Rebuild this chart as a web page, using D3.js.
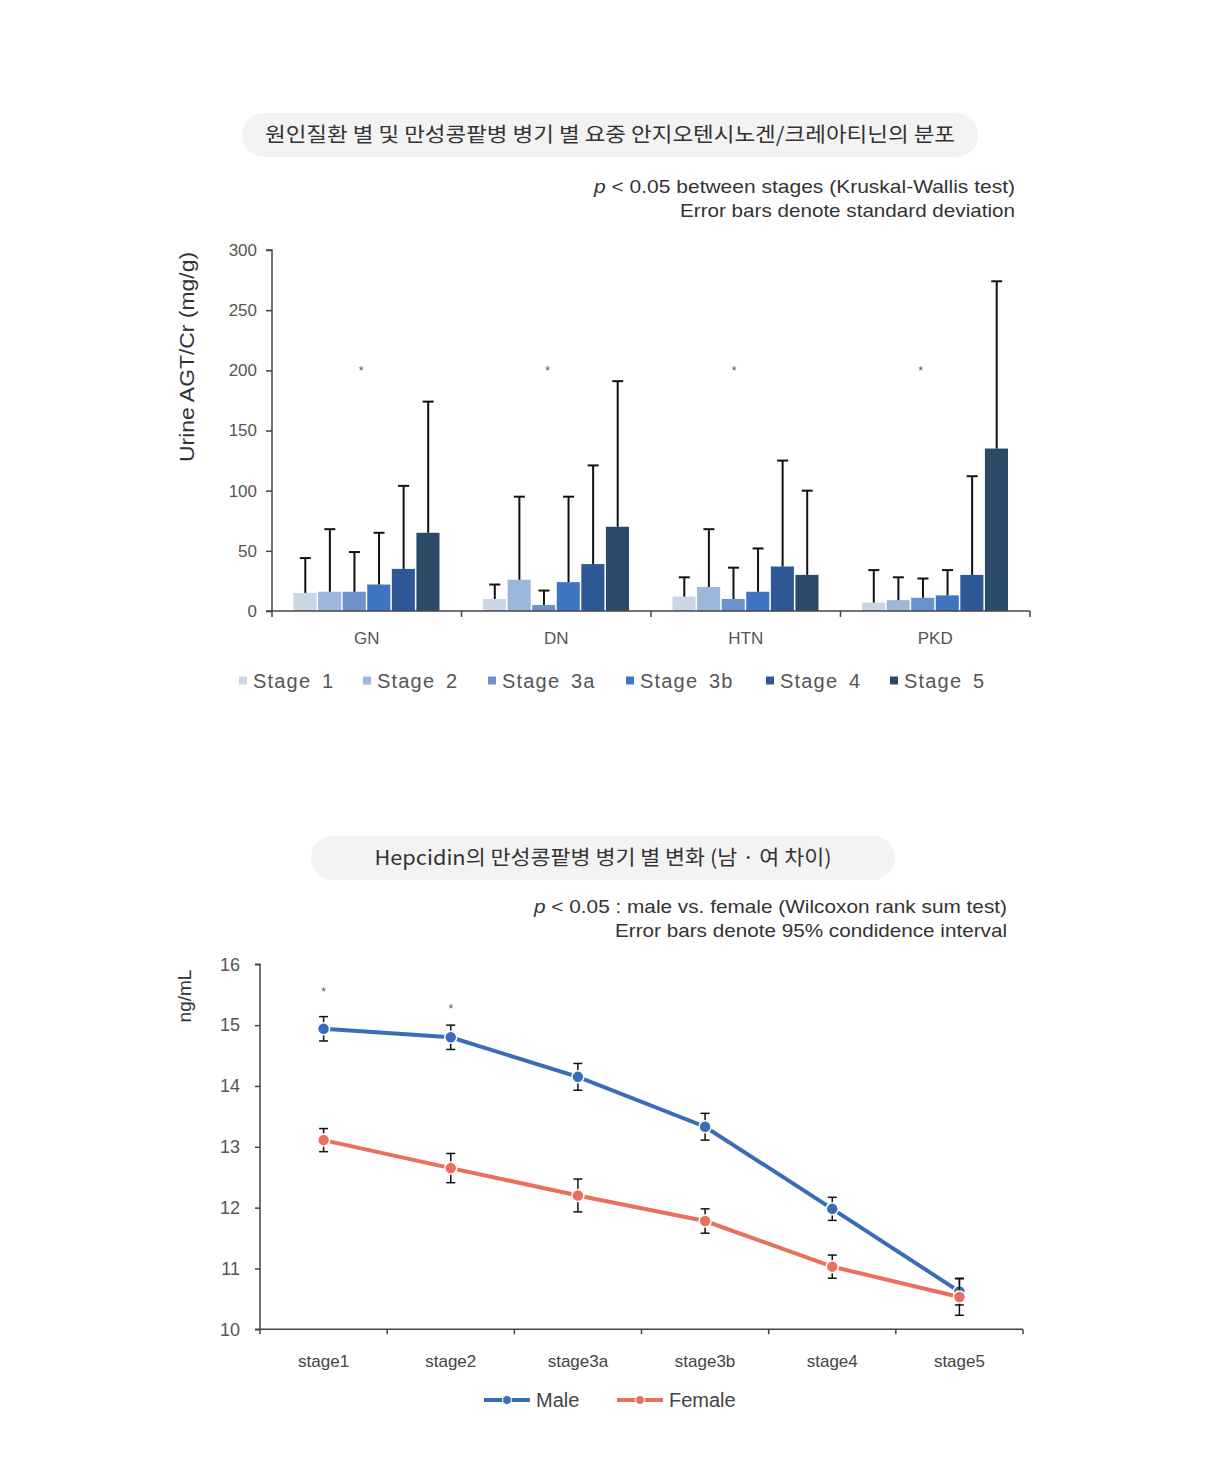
<!DOCTYPE html>
<html>
<head>
<meta charset="utf-8">
<script src="https://cdn.jsdelivr.net/npm/d3@7"></script>
<style>
  body { margin: 0; background: #fff; }
  svg text { font-family: "Liberation Sans", Arial, sans-serif; }
  .kr { font-family: "Noto Sans CJK KR", "Noto Sans", sans-serif; }
</style>
</head>
<body>
<div id="chart"></div>
<script>
// ---- data: chart 1 (urine AGT/Cr by cause & CKD stage)
const causes = ['GN', 'DN', 'HTN', 'PKD'];
const stages = ['Stage 1', 'Stage 2', 'Stage 3a', 'Stage 3b', 'Stage 4', 'Stage 5'];
const stageColors = ['#c8d6e6', '#9cb6dc', '#6c93cc', '#3f76c2', '#2f5896', '#2a4a68'];
const agtMean = {
    GN:  [15, 16, 16, 22, 35, 65],
    DN:  [10, 26, 5, 24, 39, 70],
    HTN: [12, 20, 10, 16, 37, 30],
    PKD: [7, 9, 11, 13, 30, 135]
};
const agtSd = {
    GN:  [29, 52, 33, 43, 69, 109],
    DN:  [12, 69, 12, 71, 82, 121],
    HTN: [16, 48, 26, 36, 88, 70],
    PKD: [27, 19, 16, 21, 82, 139]
};
const agtTicks = [0, 50, 100, 150, 200, 250, 300];
const agtStarValue = 200;

// ---- data: chart 2 (hepcidin by stage and sex)
const hepStages = ['stage1', 'stage2', 'stage3a', 'stage3b', 'stage4', 'stage5'];
const maleMean = [14.94, 14.80, 14.15, 13.33, 11.98, 10.62];
const maleCi = [0.20, 0.20, 0.22, 0.22, 0.19, 0.22];
const femaleMean = [13.11, 12.65, 12.20, 11.78, 11.03, 10.53];
const femaleCi = [0.19, 0.24, 0.27, 0.20, 0.19, 0.30];
const hepStars = [{ stage: 'stage1', value: 15.57 }, { stage: 'stage2', value: 15.30 }];
const hepTicks = [10, 11, 12, 13, 14, 15, 16];

const width = 1206, height = 1462;
const svg = d3.select('#chart').append('svg')
    .attr('width', width)
    .attr('height', height);

function drawTitle(cx, cy, w, text, len) {
    svg.append('rect')
        .attr('x', cx - w / 2).attr('y', cy - 22)
        .attr('width', w).attr('height', 44)
        .attr('rx', 22)
        .attr('fill', '#f3f3f3');
    svg.append('text')
        .attr('class', 'kr')
        .attr('x', cx).attr('y', cy + 7)
        .attr('text-anchor', 'middle')
        .attr('font-size', 20.5)
        .attr('fill', '#333')
        .attr('textLength', len)
        .attr('lengthAdjust', 'spacingAndGlyphs')
        .text(text);
}

function drawNote(x, y, italic, rest, len) {
    const t = svg.append('text')
        .attr('x', x - len).attr('y', y)
        .attr('font-size', 19)
        .attr('fill', '#333')
        .attr('textLength', len)
        .attr('lengthAdjust', 'spacingAndGlyphs');
    t.append('tspan').attr('font-style', 'italic').text(italic);
    t.append('tspan').text(rest);
}

// ================= chart 1 =================
const m1 = { left: 272, right: 1030, top: 250, bottom: 611 };
const x0 = d3.scaleBand().domain(causes).range([m1.left, m1.right]);
const x1 = d3.scaleBand().domain(stages).range([21, x0.bandwidth() - 21]);
const y1 = d3.scaleLinear().domain([0, 300]).range([m1.bottom, m1.top]);

drawTitle(610, 135, 736, '원인질환 별 및 만성콩팥병 병기 별 요중 안지오텐시노겐/크레아티닌의 분포', 690);
drawNote(1015, 193, 'p', ' < 0.05 between stages (Kruskal-Wallis test)', 421);
drawNote(1015, 217, '', 'Error bars denote standard deviation', 335);

const g1 = svg.append('g');

const groups = g1.selectAll('.grp')
    .data(causes)
    .enter().append('g')
    .attr('class', 'grp')
    .attr('transform', d => `translate(${x0(d)},0)`);

groups.selectAll('rect')
    .data(c => stages.map((s, i) => ({ cause: c, stage: s, i: i, v: agtMean[c][i], sd: agtSd[c][i] })))
    .enter().append('rect')
    .attr('x', d => x1(d.stage) + 0.5)
    .attr('y', d => y1(d.v))
    .attr('width', x1.bandwidth() - 1.5)
    .attr('height', d => y1(0) - y1(d.v))
    .attr('fill', d => stageColors[d.i]);

const errs = groups.selectAll('.err')
    .data(c => stages.map((s, i) => ({ stage: s, v: agtMean[c][i], sd: agtSd[c][i] })))
    .enter().append('g').attr('class', 'err')
    .attr('stroke', '#111').attr('stroke-width', 2);
errs.append('line')
    .attr('x1', d => x1(d.stage) + x1.bandwidth() / 2)
    .attr('x2', d => x1(d.stage) + x1.bandwidth() / 2)
    .attr('y1', d => y1(d.v))
    .attr('y2', d => y1(d.v + d.sd));
errs.append('line')
    .attr('x1', d => x1(d.stage) + x1.bandwidth() / 2 - 5.5)
    .attr('x2', d => x1(d.stage) + x1.bandwidth() / 2 + 5.5)
    .attr('y1', d => y1(d.v + d.sd))
    .attr('y2', d => y1(d.v + d.sd));

groups.append('text')
    .attr('x', (d, i) => x0.bandwidth() * 0.47 - i * 3)
    .attr('y', y1(agtStarValue) + 5)
    .attr('text-anchor', 'middle')
    .attr('font-size', 12)
    .attr('fill', '#555')
    .text('*');

// axes
const yAxis1 = g1.append('g')
    .attr('transform', `translate(${m1.left},0)`)
    .call(d3.axisLeft(y1).tickValues(agtTicks).tickSize(6).tickPadding(9));
yAxis1.select('.domain').attr('stroke', '#444').attr('stroke-width', 1.5).attr('d', `M-6,${m1.bottom}H0V${m1.top}H-6`);
yAxis1.selectAll('.tick line').attr('stroke', '#444').attr('stroke-width', 1.5);
yAxis1.selectAll('.tick text').attr('font-size', 17).attr('fill', '#555')
    .attr('font-family', 'Liberation Sans, Arial, sans-serif');

const xAxis1 = g1.append('g').attr('transform', `translate(0,${m1.bottom})`);
xAxis1.append('line')
    .attr('x1', m1.left).attr('x2', m1.right)
    .attr('stroke', '#444').attr('stroke-width', 1.5);
xAxis1.selectAll('.bt')
    .data(causes.map(c => x0(c)).concat([m1.right]))
    .enter().append('line')
    .attr('x1', d => d).attr('x2', d => d)
    .attr('y1', 0).attr('y2', 6)
    .attr('stroke', '#444').attr('stroke-width', 1.5);
xAxis1.selectAll('.cl')
    .data(causes)
    .enter().append('text')
    .attr('x', d => x0(d) + x0.bandwidth() / 2)
    .attr('y', 33)
    .attr('text-anchor', 'middle')
    .attr('font-size', 17)
    .attr('fill', '#555')
    .text(d => d);

svg.append('text')
    .attr('transform', 'translate(194,357) rotate(-90)')
    .attr('text-anchor', 'middle')
    .attr('font-size', 21)
    .attr('fill', '#333')
    .attr('textLength', 210)
    .attr('lengthAdjust', 'spacingAndGlyphs')
    .text('Urine AGT/Cr (mg/g)');

// legend 1
const leg1X = [239, 363, 488, 626, 766, 890];
const leg1 = svg.append('g').selectAll('g')
    .data(stages)
    .enter().append('g')
    .attr('transform', (d, i) => `translate(${leg1X[i]},681)`);
leg1.append('rect')
    .attr('x', 0).attr('y', -4.5)
    .attr('width', 8).attr('height', 8)
    .attr('fill', (d, i) => stageColors[i]);
leg1.append('text')
    .attr('x', 14).attr('y', 7)
    .attr('font-size', 20)
    .attr('letter-spacing', 1.2)
    .attr('word-spacing', 4)
    .attr('fill', '#555')
    .text(d => d);

// ================= chart 2 =================
const m2 = { left: 260, right: 1023, top: 964.3, bottom: 1329.3 };
const x2 = d3.scaleBand().domain(hepStages).range([m2.left, m2.right]);
const y2 = d3.scaleLinear().domain([10, 16]).range([m2.bottom, m2.top]);
const cx2 = s => x2(s) + x2.bandwidth() / 2;

drawTitle(603, 858, 584, 'Hepcidin의 만성콩팥병 병기 별 변화 (남 · 여 차이)', 457);
drawNote(1007, 913, 'p', ' < 0.05 : male vs. female (Wilcoxon rank sum test)', 473);
drawNote(1007, 937, '', 'Error bars denote 95% condidence interval', 392);

const g2 = svg.append('g');

const yAxis2 = g2.append('g')
    .attr('transform', `translate(${m2.left},0)`)
    .call(d3.axisLeft(y2).tickValues(hepTicks).tickFormat(d3.format('d')).tickSize(5).tickPadding(15));
yAxis2.select('.domain').attr('stroke', '#444').attr('stroke-width', 1.5).attr('d', `M-5,${m2.bottom}H0V${m2.top}H-5`);
yAxis2.selectAll('.tick line').attr('stroke', '#444').attr('stroke-width', 1.5);
yAxis2.selectAll('.tick text').attr('font-size', 18).attr('fill', '#555')
    .attr('font-family', 'Noto Sans, sans-serif');

const xAxis2 = g2.append('g').attr('transform', `translate(0,${m2.bottom})`);
xAxis2.append('line')
    .attr('x1', m2.left).attr('x2', m2.right)
    .attr('stroke', '#444').attr('stroke-width', 1.5);
xAxis2.selectAll('.bt')
    .data(hepStages.map(s => x2(s)).concat([m2.right]))
    .enter().append('line')
    .attr('x1', d => d).attr('x2', d => d)
    .attr('y1', 0).attr('y2', 5)
    .attr('stroke', '#444').attr('stroke-width', 1.5);
xAxis2.selectAll('.sl')
    .data(hepStages)
    .enter().append('text')
    .attr('x', d => cx2(d))
    .attr('y', 38)
    .attr('text-anchor', 'middle')
    .attr('font-family', 'Noto Sans, sans-serif')
    .attr('font-size', 17)
    .attr('fill', '#444')
    .text(d => d);

svg.append('text')
    .attr('transform', 'translate(191,996) rotate(-90)')
    .attr('text-anchor', 'middle')
    .attr('font-family', 'Noto Sans, sans-serif')
    .attr('font-size', 19)
    .attr('fill', '#333')
    .text('ng/mL');

const series = [
    { name: 'Male', color: '#3a6db8', mean: maleMean, ci: maleCi },
    { name: 'Female', color: '#e8705c', mean: femaleMean, ci: femaleCi }
];

const line2 = d3.line()
    .x((d, i) => cx2(hepStages[i]))
    .y(d => y2(d));

series.forEach(s => {
    g2.append('path')
        .datum(s.mean)
        .attr('d', line2)
        .attr('fill', 'none')
        .attr('stroke', s.color)
        .attr('stroke-width', 4);
});

series.forEach(s => {
    const eb = g2.append('g').attr('stroke', '#111').attr('stroke-width', 1.5);
    const pts = hepStages.map((st, i) => ({ st: st, v: s.mean[i], ci: s.ci[i] }));
    eb.selectAll('.v').data(pts).enter().append('line')
        .attr('x1', d => cx2(d.st)).attr('x2', d => cx2(d.st))
        .attr('y1', d => y2(d.v - d.ci)).attr('y2', d => y2(d.v + d.ci));
    eb.selectAll('.t').data(pts).enter().append('line')
        .attr('x1', d => cx2(d.st) - 4.5).attr('x2', d => cx2(d.st) + 4.5)
        .attr('y1', d => y2(d.v + d.ci)).attr('y2', d => y2(d.v + d.ci));
    eb.selectAll('.b').data(pts).enter().append('line')
        .attr('x1', d => cx2(d.st) - 4.5).attr('x2', d => cx2(d.st) + 4.5)
        .attr('y1', d => y2(d.v - d.ci)).attr('y2', d => y2(d.v - d.ci));
    g2.selectAll(null).data(pts).enter().append('circle')
        .attr('cx', d => cx2(d.st))
        .attr('cy', d => y2(d.v))
        .attr('r', 6)
        .attr('fill', s.color)
        .attr('stroke', '#fff')
        .attr('stroke-width', 1.5);
});

g2.selectAll('.star')
    .data(hepStars)
    .enter().append('text')
    .attr('x', d => cx2(d.stage))
    .attr('y', d => y2(d.value) + 6)
    .attr('text-anchor', 'middle')
    .attr('font-size', 12)
    .attr('fill', '#555')
    .text('*');

// legend 2
const leg2X = [484, 617];
const leg2 = svg.append('g').selectAll('g')
    .data(series)
    .enter().append('g')
    .attr('transform', (d, i) => `translate(${leg2X[i]},1400)`);
leg2.append('line')
    .attr('x1', 0).attr('x2', 46)
    .attr('stroke', d => d.color)
    .attr('stroke-width', 4);
leg2.append('circle')
    .attr('cx', 23).attr('cy', 0).attr('r', 4.5)
    .attr('fill', d => d.color)
    .attr('stroke', '#fff').attr('stroke-width', 1);
leg2.append('text')
    .attr('x', 52).attr('y', 7)
    .attr('font-family', 'Noto Sans, sans-serif')
    .attr('font-size', 20)
    .attr('fill', '#444')
    .text(d => d.name);
</script>
</body>
</html>
